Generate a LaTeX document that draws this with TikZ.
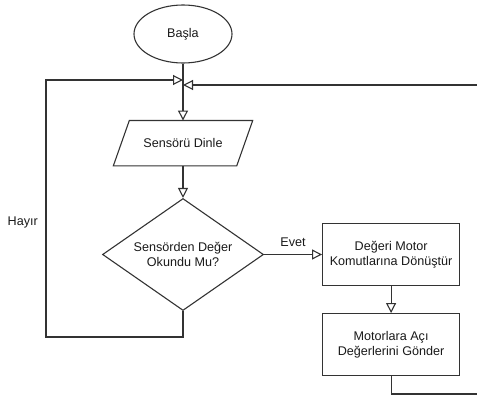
\documentclass[tikz,border=0pt]{standalone}
\usepackage{fontspec}
\setmainfont{Liberation Sans}
\usetikzlibrary{positioning, shapes.geometric, arrows.meta}

\begin{document}
\begin{tikzpicture}[x=1pt, y=1pt,
	every node/.style={font=\fontsize{12.6}{15}\selectfont, text=black!90, align=center},
	cizgi/.style={draw=black!80, line width=1.1pt},
	ok/.style={cizgi, -{Triangle[open, length=10pt, width=10pt, fill=white]}},
	basla/.style={cizgi, ellipse, minimum width=98pt, minimum height=58pt, inner sep=0},
	girdi/.style={rectangle, minimum width=139pt, minimum height=45pt, inner sep=0},
	karar/.style={cizgi, diamond, aspect=1.44, minimum width=161pt, minimum height=112pt, inner sep=0},
	islem/.style={cizgi, rectangle, minimum width=137pt, minimum height=62pt, inner sep=2pt}]
	\useasboundingbox (0,0) rectangle (477,-401);

	\node[basla] (baslat) at (183,-34) {Başla};
	\node[girdi, below=57pt of baslat] (dinle) {Sensörü Dinle};
	\draw[cizgi] ([xshift=16pt]dinle.north west) -- (dinle.north east)
		-- ([xshift=-16pt]dinle.south east) -- (dinle.south west) -- cycle;
	\node[karar, below=32pt of dinle] (karar) {Sensörden Değer\\Okundu Mu?};
	\node[islem, right=58pt of karar] (donustur) {Değeri Motor\\Komutlarına Dönüştür};
	\node[islem, below=27pt of donustur] (gonder) {Motorlara Açı\\Değerlerini Gönder};

	% geri donus yollari
	\coordinate (solgiris) at (baslat |- 0,-80);
	\coordinate (saggiris) at (baslat |- 0,-85);
	\coordinate (solkose) at (46,-337);
	\coordinate (sagkose) at (479,-394);

	\draw[ok] (baslat) -- (dinle);
	\draw[ok] (dinle) -- (karar);
	\draw[ok] (karar) -- node[above=7pt, inner sep=0] (evet) {Evet} (donustur);
	\draw[ok] (donustur) -- (gonder);
	\draw[ok] (karar.south) |- (solkose) |- (solgiris);
	\draw[ok] (gonder.south) |- (sagkose) |- (saggiris);
	\node[left=8pt, inner sep=0] (hayir) at (46,-222) {Hayır};
\end{tikzpicture}
\end{document}
